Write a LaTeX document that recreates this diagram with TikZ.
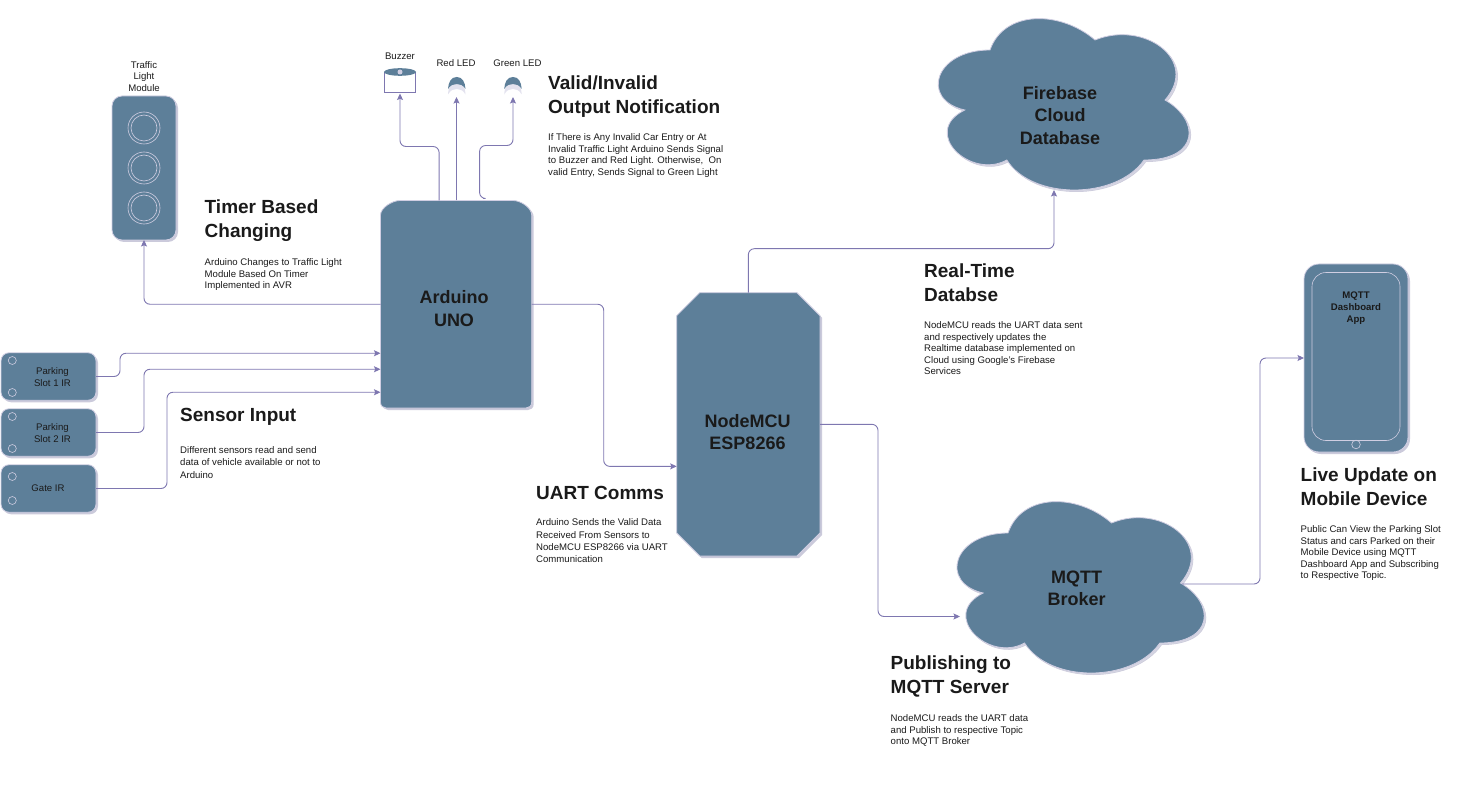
\documentclass[tikz,border=0pt]{standalone}
\usepackage{fontspec}
\setmainfont{Liberation Sans}
\usetikzlibrary{arrows.meta,shadows,calc}
\definecolor{boxfill}{HTML}{5D7F99}
\definecolor{boxline}{HTML}{D0CEE2}
\definecolor{wirecol}{HTML}{7E77B0}
\definecolor{inkcol}{HTML}{1A1A1A}
\definecolor{shadowcol}{HTML}{CBCADB}
\tikzset{
	blockbox/.style={draw=boxline,fill=boxfill,line width=0.8pt,inner sep=0pt,outer sep=0pt,drop shadow={shadow xshift=2pt,shadow yshift=-2pt,fill=shadowcol,opacity=1}},
	cloudbox/.style={blockbox,drop shadow={shadow xshift=1.5pt,shadow yshift=-1.5pt,fill=shadowcol!80,opacity=1}},
	sensorbox/.style={blockbox,rounded corners=8pt,minimum width=95pt,minimum height=47.5pt},
	ghost/.style={inner sep=0pt,outer sep=0pt},
	wire/.style={draw=wirecol,line width=0.9pt,rounded corners=6pt,-{Stealth[length=6.5pt,width=6pt,inset=1.2pt]}},
	ring/.style={draw=boxline,line width=0.6pt},
	bigtext/.style={font=\fontsize{18}{22.4}\selectfont\bfseries,text=inkcol,align=center,inner sep=0pt},
	heading/.style={font=\fontsize{19}{24}\selectfont\bfseries,text=inkcol,align=left,anchor=base west,inner sep=0pt},
	note/.style={font=\fontsize{9.6}{11.5}\selectfont,text=inkcol,align=left,anchor=base west,inner sep=0pt},
	notewide/.style={note,font=\fontsize{9.6}{12.2}\selectfont},
	small/.style={font=\fontsize{9.6}{11.7}\selectfont,text=inkcol,align=center,inner sep=0pt},
}
\newcommand{\cloudat}[4]{
	\begin{scope}[shift={(#1,#2)},x=#3pt,y=-#4pt]
	\path[cloudbox] (0.25,0.25) .. controls (0.05,0.25) and (0,0.5) .. (0.16,0.55) .. controls (0,0.66) and (0.18,0.9) .. (0.31,0.8) .. controls (0.4,1) and (0.7,1) .. (0.8,0.8) .. controls (1,0.8) and (1,0.6) .. (0.875,0.5) .. controls (1,0.3) and (0.8,0.1) .. (0.625,0.2) .. controls (0.5,0.05) and (0.3,0.05) .. (0.25,0.25) -- cycle;
	\end{scope}
}
\newcommand{\ledat}[2]{
	\fill[boxline!60] (#1,#2+2.5) .. controls (#1+0.5,#2-6) and (#1+3,#2-9) .. (#1+8.75,#2-9) .. controls (#1+14.5,#2-9) and (#1+17,#2-6) .. (#1+17.5,#2+2.5) .. controls (#1+15,#2-2) and (#1+12,#2-3) .. (#1+8.75,#2-3) .. controls (#1+5.5,#2-3) and (#1+2.5,#2-2) .. (#1,#2+2.5) -- cycle;
	\fill[boxfill] (#1,#2-3) .. controls (#1+0.5,#2-10) and (#1+3,#2-15) .. (#1+8.75,#2-15) .. controls (#1+14.5,#2-15) and (#1+17,#2-10) .. (#1+17.5,#2-3) .. controls (#1+15,#2-7) and (#1+12,#2-8) .. (#1+8.75,#2-8) .. controls (#1+5.5,#2-8) and (#1+2.5,#2-7) .. (#1,#2-3) -- cycle;
}

\begin{document}
\begin{tikzpicture}[x=1pt,y=-1pt]
	\useasboundingbox (0,0) rectangle (1458,786);

	% traffic light
	\node (traffic) [blockbox,rounded corners=10pt,minimum width=64pt,minimum height=144pt] at (144,168) {};
	\foreach \i in {128,168,208} {
		\draw[ring] (144,\i) circle (16);
		\draw[ring] (144,\i) circle (13);
	}
	\node (trafficlabel) [small] at (144,76.5) {Traffic\\Light\\Module};

	% sensors
	\node (slotone) [sensorbox] at (48.5,376.5) {};
	\node (slottwo) [sensorbox] at (48.5,432.5) {};
	\node (gate) [sensorbox] at (48.5,488.5) {};
	\foreach \i in {360.5,392.5,416.5,448.5,476.5,500.5}
		\draw[ring] (12.3,\i) circle (4);
	\node (slotonelabel) [small] at (52.5,377) {Parking\\Slot 1 IR};
	\node (slottwolabel) [small] at (52.5,433) {Parking\\Slot 2 IR};
	\node (gatelabel) [small] at (48,488) {Gate IR};

	% arduino
	\draw[blockbox] (380.5,215) .. controls (380.5,208) and (392,200.5) .. (400,200.5) -- (513,200.5) .. controls (521,200.5) and (531.7,208) .. (531.7,215) -- (531.7,402) .. controls (531.7,406) and (529,408) .. (526,408) -- (386,408) .. controls (383,408) and (380.5,406) .. (380.5,402) -- cycle;
	\node (arduino) [ghost,minimum width=151.2pt,minimum height=207.5pt] at (456.1,304.25) {};
	\node (arduinolabel) [bigtext] at (454,308.5) {Arduino\\UNO};

	% nodemcu
	\draw[blockbox] (699.7,292.7) -- (797,292.7) -- (820,315.7) -- (820,533) -- (797,556) -- (699.7,556) -- (676.7,533) -- (676.7,315.7) -- cycle;
	\node (nodemcu) [ghost,minimum width=143.3pt,minimum height=263.3pt] at (748.35,424.35) {};
	\node (nodemculabel) [bigtext] at (747.5,432) {NodeMCU\\ESP8266};

	% clouds
	\cloudat{920}{0}{280}{200}
	\node (firebase) [bigtext] at (1060,115.5) {Firebase\\Cloud\\Database};
	\coordinate (firebasein) at (1054,190);
	\cloudat{939}{483}{276}{200}
	\node (broker) [bigtext] at (1076.7,588) {MQTT\\Broker};
	\coordinate (brokerin) at (960,616.5);
	\coordinate (brokerout) at (1182,584);

	% phone
	\node (phone) [blockbox,rounded corners=15pt,minimum width=104pt,minimum height=188pt] at (1356,358) {};
	\draw[ring,rounded corners=14pt] (1312,272.5) rectangle (1400,440.5);
	\draw[ring] (1356,444.5) circle (4.3);
	\node (phonelabel) [small,font=\fontsize{9.6}{11.7}\selectfont\bfseries] at (1356,308) {MQTT\\Dashboard\\App};

	% outputs
	\draw[draw=wirecol,line width=0.9pt,fill=white] (384.3,72) rectangle (415.7,92.3);
	\fill[boxfill] (400,72) ellipse (16 and 3.8);
	\fill[boxline] (400,72) circle (2.5);
	\node (buzzer) [ghost,minimum width=32pt,minimum height=25pt] at (400,81) {};
	\node (buzzerlabel) [small] at (400,56) {Buzzer};
	\ledat{448}{92}
	\ledat{504.2}{92}
	\node (redled) [ghost,minimum width=18pt,minimum height=20pt] at (456.5,87) {};
	\node (greenled) [ghost,minimum width=18pt,minimum height=20pt] at (513,87) {};
	\node (redlabel) [small] at (456,63.5) {Red LED};
	\node (greenlabel) [small] at (517.5,63.5) {Green LED};

	% connectors
	\begin{scope}
	\draw[wire] (arduino.west) -| (traffic.south);
	\draw[wire] (slotone.east) -- ++(24,0) |- ([yshift=-49pt]arduino.west);
	\draw[wire] (slottwo.east) -- ++(48,0) |- ([yshift=-65pt]arduino.west);
	\draw[wire] (gate.east) -- ++(71,0) |- ([yshift=-88pt]arduino.west);
	\draw[wire] ([xshift=-17pt]arduino.north) -- ++(0,-54) -| (buzzer.south);
	\draw[wire] (arduino.north -| redled.south) -- (redled.south);
	\draw[wire] ([xshift=27pt,yshift=2pt]arduino.north) -- ++(-3.5,0) -- ++(0,-53) -| (greenled.south);
	\draw[wire] (arduino.east) -- ++(72,0) |- ([yshift=-42pt]nodemcu.west);
	\draw[wire] (nodemcu.north) -- ++(0,-44) -| (firebasein);
	\draw[wire] (nodemcu.east) -- ++(58,0) |- (brokerin);
	\draw[wire] (brokerout) -- ++(78,0) |- (phone.west);
	\end{scope}

	% descriptions
	\node (timertitle) [heading] at (204.5,237.5) {Timer Based\\Changing};
	\node (timertext) [note] at (204.5,288.5) {Arduino Changes to Traffic Light\\Module Based On Timer\\Implemented in AVR};
	\node (validtitle) [heading] at (548,113.5) {Valid/Invalid\\Output Notification};
	\node (validtext) [note] at (548,175.5) {If There is Any Invalid Car Entry or At\\Invalid Traffic Light Arduino Sends Signal\\to Buzzer and Red Light. Otherwise,~ On\\valid Entry, Sends Signal to Green Light};
	\node (sensortitle) [heading] at (180,421.5) {Sensor Input};
	\node (sensortext) [notewide] at (180,478) {Different sensors read and send\\data of vehicle available or not to\\Arduino};
	\node (uarttitle) [heading] at (536,499.5) {UART Comms};
	\node (uarttext) [notewide] at (536,562.5) {Arduino Sends the Valid Data\\Received From Sensors to\\NodeMCU ESP8266 via UART\\Communication};
	\node (realtitle) [heading] at (924,301.5) {Real-Time\\Databse};
	\node (realtext) [note] at (924,374.5) {NodeMCU reads the UART data sent\\and respectively updates the\\Realtime database implemented on\\Cloud using Google's Firebase\\Services};
	\node (publishtitle) [heading] at (890.5,693.5) {Publishing to\\MQTT Server};
	\node (publishtext) [note] at (890.5,744.5) {NodeMCU reads the UART data\\and Publish to respective Topic\\onto MQTT Broker};
	\node (livetitle) [heading] at (1300.5,505.5) {Live Update on\\Mobile Device};
	\node (livetext) [note] at (1300.5,578.5) {Public Can View the Parking Slot\\Status and cars Parked on their\\Mobile Device using MQTT\\Dashboard App and Subscribing\\to Respective Topic.};
\end{tikzpicture}
\end{document}
